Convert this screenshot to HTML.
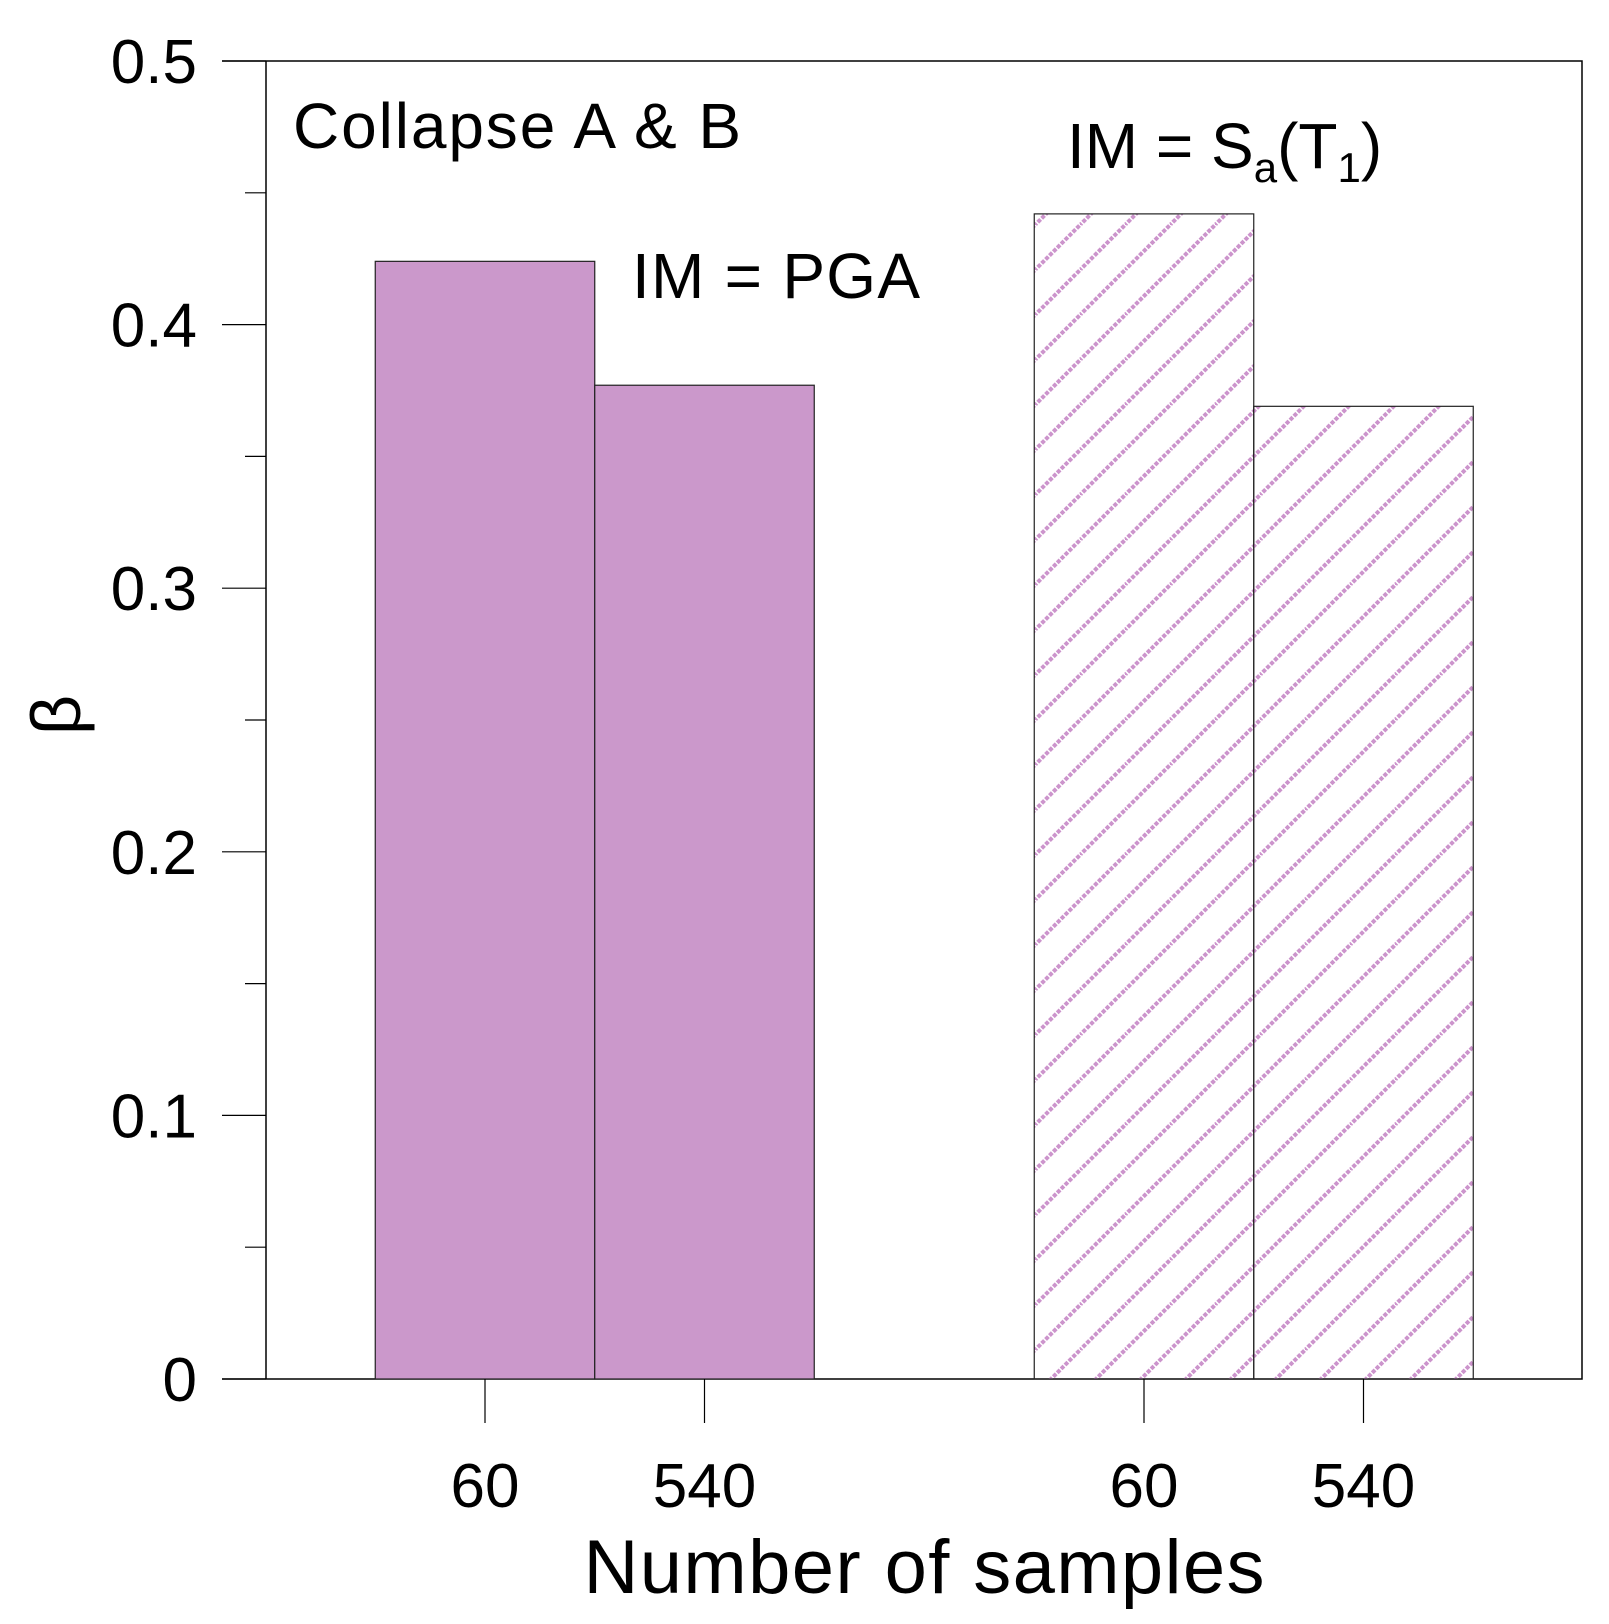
<!DOCTYPE html>
<html><head><meta charset="utf-8"><style>
html,body{margin:0;padding:0;background:#fff}
svg{display:block}
text{font-family:"Liberation Sans",Arial,sans-serif;fill:#000}
</style></head><body>
<svg id="chart" width="1609" height="1624" viewBox="0 0 1609 1624" xmlns="http://www.w3.org/2000/svg">
<defs>
<pattern id="hatch" patternUnits="userSpaceOnUse" width="45" height="45">
<path d="M-5,50 L50,-5 M-50,50 L50,-50 M-5,95 L95,-5" stroke="#cc94cc" stroke-width="4" stroke-dasharray="4,1.5"/>
</pattern>
</defs>
<g id="plot"></g>
<text x="293" y="148" font-size="64" textLength="448">Collapse A &amp; B</text>
<text x="632" y="298" font-size="64" textLength="288">IM = PGA</text>
<text x="1067" y="168" font-size="64">IM = S<tspan font-size="42" dy="14">a</tspan><tspan dy="-14">(T</tspan><tspan font-size="42" dy="14">1</tspan><tspan dy="-14">)</tspan></text>
<text transform="translate(80,715) rotate(-90)" text-anchor="middle" font-size="70" font-family="'Liberation Serif',serif">β</text>
<text x="924" y="1593" font-size="76" text-anchor="middle" textLength="681">Number of samples</text>
</svg>
<script>
const categories = ["60", "540", "60", "540"];
const groups = ["PGA", "PGA", "Sa(T1)", "Sa(T1)"];
const values = [0.424, 0.377, 0.442, 0.369];
const yTicks = [0, 0.1, 0.2, 0.3, 0.4, 0.5];
const yTickLabels = ["0", "0.1", "0.2", "0.3", "0.4", "0.5"];
const yMinor = [0.05, 0.15, 0.25, 0.35, 0.45];

const NS = "http://www.w3.org/2000/svg";
const g = document.getElementById("plot");
const L = 266, R = 1582, T = 61, B = 1379;
const y = v => B - (v / 0.5) * (B - T);
const xc = i => 485 + (i < 2 ? i * 219.5 : 659 + (i - 2) * 219.5);
const bw = 219.5;
function el(tag, attrs) {
  const e = document.createElementNS(NS, tag);
  for (const k in attrs) e.setAttribute(k, attrs[k]);
  g.appendChild(e);
  return e;
}
let f = el("path", {d:`M222,${T} H${R} V${B} H222 M${L},${T} V${B}`, fill:"none", stroke:"#000", "stroke-width":1.5});


values.forEach((v, i) => {
  const x0 = xc(i) - bw / 2;
  const r = el("rect", {x:x0, y:y(v), width:bw, height:B - y(v),
    fill: groups[i] === "PGA" ? "#cb98cb" : "url(#hatch)", stroke:"#222", "stroke-width":1.2});
  
  
  const t = el("line", {x1:xc(i), x2:xc(i), y1:B, y2:1423, stroke:"#000", "stroke-width":1.2});
  
  
  const lb = el("text", {x:xc(i), y:1507, "font-size":62, "text-anchor":"middle"});
  lb.textContent = categories[i];
  
  
});
yTicks.forEach((v, i) => {
  const t = el("line", {x1:222, x2:L, y1:y(v), y2:y(v), stroke:"#000", "stroke-width":1.2});
  
  
  const lb = el("text", {x:197, y:y(v) + 22, "font-size":62, "text-anchor":"end"});
  lb.textContent = yTickLabels[i];
  
  
});
yMinor.forEach(v => {
  const t = el("line", {x1:245, x2:L, y1:y(v), y2:y(v), stroke:"#000", "stroke-width":1.2});
  
  
});
</script>
</body></html>
